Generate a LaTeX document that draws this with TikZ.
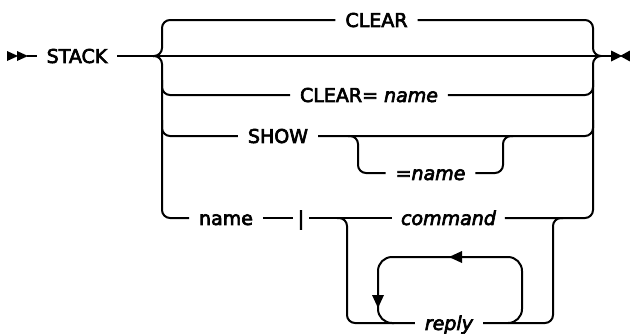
\documentclass[tikz,border=0pt]{standalone}
\usepackage{fontspec}
\setmainfont{DejaVu Sans}[FakeBold=3.5, ItalicFont={DejaVu Sans Oblique}, ItalicFeatures={FakeBold=3.5}]
\begin{document}
\begin{tikzpicture}[x=1bp,y=-1bp, line width=2bp,
  lbl/.style={font=\fontsize{19bp}{23bp}\selectfont, inner xsep=9bp, inner ysep=0pt, text height=13.9bp, text depth=0pt},
  rc/.style={rounded corners=8bp},
  lp/.style={rounded corners=14bp}]
\useasboundingbox (0,0) rectangle (630,333);
% labels
\node[lbl] (stack) at (77,56) {STACK};
\node[lbl] (clear) at (376.5,20) {CLEAR};
\node[lbl] (clearn) at (369,95) {CLEAR= \textit{name}};
\node[lbl] (show) at (278,136) {SHOW};
\node[lbl] (eqname) at (430.5,173) {\textit{=name}};
\node[lbl] (name) at (226,218) {name};
\node[lbl, inner xsep=4bp] (bar) at (301,218) {|};
\node[lbl, inner xsep=8bp] (cmd) at (448.5,218) {\textit{command}};
\node[lbl] (reply) at (449,323) {\textit{reply}};
% junction coordinates
\coordinate (startm) at (27,56);
\coordinate (lj) at (153,56);
\coordinate (rj) at (601,56);
\coordinate (endm) at (612,56);
% start / end marks
\fill (7,51) -- (18,56) -- (7,61) -- cycle;
\fill (17,51) -- (28,56) -- (17,61) -- cycle;
\draw (startm) -- (stack.west);
\draw (stack.east) -- (endm);
\fill (611,50.5) -- (622,56) -- (611,61.5) -- cycle;
\fill (630,50.5) -- (620,56) -- (630,61.5) -- cycle;
% left brace
\draw[rc] (lj) -| (162,20) -- (clear.west);
\draw[rc] (lj) -| (162,218) -- (name.west);
\draw[rc] (162,80) |- (clearn.west);
\draw[rc] (162,120) |- (show.west);
% right brace
\draw[rc] (clear.east) -| (593,56) -- (rj);
\draw[rc] (cmd.east) -| (593,56) -- (rj);
\draw[rc] (clearn.east) -| (593,80);
\draw[rc] (show.east) -| (593,120);
% optional =name
\draw[rc] (348,136) -| (358,173) -- (eqname.west);
\draw[rc] (eqname.east) -| (503,136) -- (513,136);
% name row
\draw (name.east) -- (bar.west);
\draw (bar.east) -- (cmd.west);
% repeat group
\draw[rc] (337,218) -| (347,323) -- (reply.west);
\draw[rc] (reply.east) -| (553,218) -- (563,218);
\draw[lp] (508,323) -| (522,257) -| (378,323) -- (394,323);
\fill (449,257) -- (462,251) -- (462,263) -- cycle;
\fill (378,308) -- (372,295) -- (384,295) -- cycle;
\end{tikzpicture}
\end{document}
